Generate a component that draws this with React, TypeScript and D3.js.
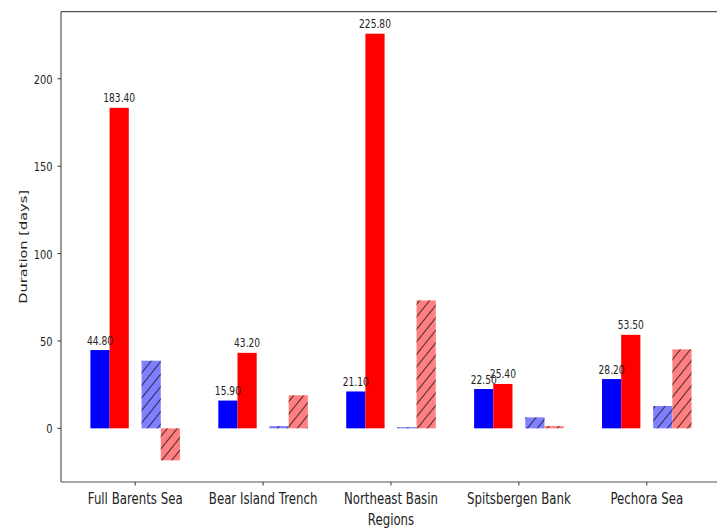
import React from "react";
import * as d3 from "d3";

// Regions along the x axis
const regions = ["Full Barents Sea", "Bear Island Trench", "Northeast Basin", "Spitsbergen Bank", "Pechora Sea"];

// Durations in days for each region
const durationBlue = [44.8, 15.9, 21.1, 22.5, 28.2];
const durationRed = [183.4, 43.2, 225.8, 25.4, 53.5];
const changeBlue = [38.7, 1.3, 0.7, 6.3, 12.8];
const changeRed = [-18.3, 18.9, 73.2, 1.3, 45.2];

const yTicks = [0, 50, 100, 150, 200];

const W = 717;
const H = 529;
const SX = 0.76; // horizontal text compression
const FONT = "DejaVu Sans, sans-serif";

const margin = { left: 61, top: 11.7, bottom: 482 };

const x = d3.scaleLinear().domain([-0.58, 4.58]).range([margin.left, margin.left + 5.16 * 127.9]);
const y = d3.scaleLinear().domain([-30.7, 238.4]).range([margin.bottom, margin.top]);

const BAR_W = 0.15;

type Series = { values: number[]; offset: number; fill: string; hatch: boolean; label: boolean };

const series: Series[] = [
  { values: durationBlue, offset: -0.275, fill: "#0000ff", hatch: false, label: true },
  { values: durationRed, offset: -0.125, fill: "#ff0000", hatch: false, label: true },
  { values: changeBlue, offset: 0.125, fill: "#8080ff", hatch: true, label: false },
  { values: changeRed, offset: 0.275, fill: "#ff8080", hatch: true, label: false },
];

function SText(props: {
  x: number;
  y: number;
  size: number;
  anchor?: "start" | "middle" | "end";
  rotate?: number;
  children: React.ReactNode;
}) {
  const { x: tx, y: ty, size, anchor = "middle", rotate, children } = props;
  const tr = `translate(${tx},${ty}) scale(${SX},1)` + (rotate ? ` rotate(${rotate})` : "");
  return (
    <text transform={tr} textAnchor={anchor} fontSize={size} fontFamily={FONT} fill="#222">
      {children}
    </text>
  );
}

export default function App() {
  const bw = x(BAR_W) - x(0);
  const y0 = y(0);
  return (
    <svg width={W} height={H} style={{ position: "absolute", left: 0, top: 0, background: "#fff" }}>
      <defs>
        <pattern id="hatch" patternUnits="userSpaceOnUse" width={10} height={12.5}>
          <line x1={0} y1={12.5} x2={10} y2={0} stroke="#000" strokeOpacity={0.75} strokeWidth={1} />
          <line x1={-5} y1={6.25} x2={5} y2={-6.25} stroke="#000" strokeOpacity={0.75} strokeWidth={1} />
          <line x1={5} y1={18.75} x2={15} y2={6.25} stroke="#000" strokeOpacity={0.75} strokeWidth={1} />
        </pattern>
      </defs>
      <rect x={0} y={0} width={W} height={H} fill="#fff" />

      {/* bars */}
      {series.map((s, si) =>
        s.values.map((v, i) => {
          const cx = x(i + s.offset);
          const top = Math.min(y(v), y0);
          const h = Math.abs(y(v) - y0);
          return (
            <g key={`b${si}-${i}`}>
              <rect x={cx - bw / 2} y={top} width={bw} height={h} fill={s.fill} />
              {s.hatch && <rect x={cx - bw / 2} y={top} width={bw} height={h} fill="url(#hatch)" />}
            </g>
          );
        })
      )}

      {/* value labels */}
      {series
        .filter((s) => s.label)
        .map((s, si) =>
          s.values.map((v, i) => (
            <SText key={`l${si}-${i}`} x={x(i + s.offset)} y={y(v) - 5.5} size={12}>
              {d3.format(".2f")(v)}
            </SText>
          ))
        )}

      {/* spines */}
      <line x1={margin.left} x2={W} y1={margin.top} y2={margin.top} stroke="#555" strokeWidth={1.2} />
      <line x1={margin.left} x2={W} y1={margin.bottom} y2={margin.bottom} stroke="#555" strokeWidth={1.2} />
      <line x1={margin.left} x2={margin.left} y1={margin.top} y2={margin.bottom} stroke="#555" strokeWidth={1.2} />

      {/* y axis */}
      {yTicks.map((t) => (
        <g key={`yt${t}`}>
          <line x1={margin.left - 3.5} x2={margin.left} y1={y(t)} y2={y(t)} stroke="#333" strokeWidth={1} />
          <SText x={margin.left - 8.5} y={y(t) + 5} size={13} anchor="end">
            {String(t)}
          </SText>
        </g>
      ))}

      {/* x axis */}
      {regions.map((r, i) => (
        <g key={`xt${i}`}>
          <line x1={x(i)} x2={x(i)} y1={margin.bottom} y2={margin.bottom + 3.5} stroke="#333" strokeWidth={1} />
          <SText x={x(i)} y={504.3} size={15.5}>
            {r}
          </SText>
        </g>
      ))}

      <SText x={(margin.left + x(4.58)) / 2} y={525} size={15.5}>
        Regions
      </SText>
      <SText x={26.5} y={(margin.top + margin.bottom) / 2} size={14.6} rotate={-90}>
        Duration [days]
      </SText>
    </svg>
  );
}
